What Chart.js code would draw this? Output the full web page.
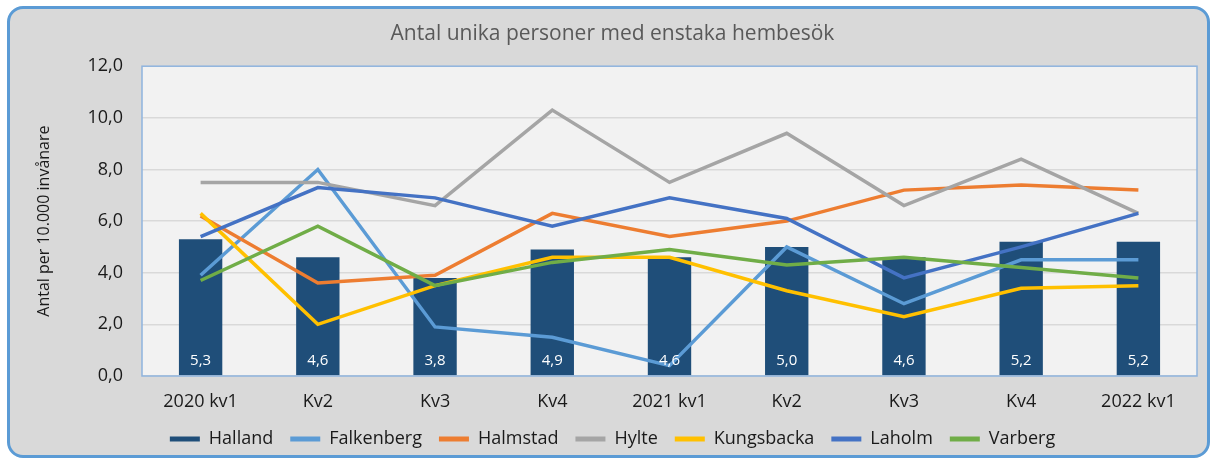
<!DOCTYPE html>
<html>
<head>
<meta charset="utf-8">
<script src="https://cdn.jsdelivr.net/npm/chart.js@4.4.1/dist/chart.umd.min.js"></script>
<style>
  html, body { margin: 0; padding: 0; background: #ffffff; }
  #frame {
    position: absolute; left: 7px; top: 6px; width: 1197px; height: 446px;
    background: #d9d9d9; border: 3px solid #5b9bd5; border-radius: 16px;
  }
  #wrap { position: absolute; left: 0; top: 0; width: 1212px; height: 459px; }
</style>
</head>
<body>
<div id="frame"></div>
<div id="wrap"><canvas id="c" width="1212" height="459"></canvas></div>
<script>
const categories = ["2020 kv1", "Kv2", "Kv3", "Kv4", "2021 kv1", "Kv2", "Kv3", "Kv4", "2022 kv1"];
const halland    = [5.3, 4.6, 3.8, 4.9, 4.6, 5.0, 4.6, 5.2, 5.2];
const falkenberg = [3.9, 8.0, 1.9, 1.5, 0.4, 5.0, 2.8, 4.5, 4.5];
const halmstad   = [6.2, 3.6, 3.9, 6.3, 5.4, 6.0, 7.2, 7.4, 7.2];
const hylte      = [7.5, 7.5, 6.6, 10.3, 7.5, 9.4, 6.6, 8.4, 6.3];
const kungsbacka = [6.3, 2.0, 3.5, 4.6, 4.6, 3.3, 2.3, 3.4, 3.5];
const laholm     = [5.4, 7.3, 6.9, 5.8, 6.9, 6.1, 3.8, 5.0, 6.3];
const varberg    = [3.7, 5.8, 3.5, 4.4, 4.9, 4.3, 4.6, 4.2, 3.8];
const yTicks     = [0, 2, 4, 6, 8, 10, 12];

const FONT = "'Open Sans', 'Noto Sans', sans-serif";

function lineDs(label, data, color, order) {
  return {
    type: 'line', label, data, borderColor: color, backgroundColor: color,
    borderWidth: 3.5, pointRadius: 0, pointHoverRadius: 0, tension: 0, fill: false, order
  };
}

const plotBg = {
  id: 'plotBg',
  beforeDraw(chart) {
    const a = chart.chartArea, ctx = chart.ctx;
    ctx.save();
    ctx.fillStyle = '#f2f2f2';
    ctx.fillRect(a.left, a.top, a.right - a.left, a.bottom - a.top);
    ctx.restore();
  },
  afterDraw(chart) {
    const a = chart.chartArea, ctx = chart.ctx;
    ctx.save();
    ctx.strokeStyle = '#8fb4de';
    ctx.lineWidth = 1.5;
    ctx.strokeRect(a.left, a.top, a.right - a.left, a.bottom - a.top);
    ctx.restore();
  }
};

const barLabels = {
  id: 'barLabels',
  afterDatasetsDraw(chart) {
    const ctx = chart.ctx;
    const meta = chart.getDatasetMeta(0);
    const a = chart.chartArea;
    ctx.save();
    ctx.fillStyle = '#ffffff';
    ctx.font = "15px " + FONT;
    ctx.textAlign = 'center';
    ctx.textBaseline = 'middle';
    meta.data.forEach((bar, i) => {
      ctx.fillText(halland[i].toFixed(1).replace('.', ','), bar.x, a.bottom - 15);
    });
    ctx.restore();
  }
};

new Chart(document.getElementById('c'), {
  data: {
    labels: categories,
    datasets: [
      { type: 'bar', label: 'Halland', data: halland, backgroundColor: '#1f4e79',
        borderWidth: 0, barPercentage: 0.37, categoryPercentage: 1.0, order: 10 },
      lineDs('Falkenberg', falkenberg, '#5b9bd5', 6),
      lineDs('Halmstad', halmstad, '#ed7d31', 5),
      lineDs('Hylte', hylte, '#a5a5a5', 4),
      lineDs('Kungsbacka', kungsbacka, '#ffc000', 3),
      lineDs('Laholm', laholm, '#4472c4', 2),
      lineDs('Varberg', varberg, '#70ad47', 1)
    ]
  },
  options: {
    responsive: false,
    animation: false,
    devicePixelRatio: 1,
    layout: { padding: { left: 28, right: 15, top: 14, bottom: 1 } },
    plugins: {
      title: {
        display: true, text: 'Antal unika personer med enstaka hembesök',
        color: '#595959', font: { family: FONT, size: 21, weight: 'normal' },
        padding: { top: 7, bottom: 20 }
      },
      legend: {
        position: 'bottom',
        labels: {
          color: '#1a1a1a', font: { family: FONT, size: 18 },
          boxWidth: 30, boxHeight: 5, padding: 17,
          sort: (a, b) => a.datasetIndex - b.datasetIndex,
          generateLabels(chart) {
            return chart.data.datasets.map((ds, i) => ({
              text: ds.label,
              fillStyle: ds.type === 'bar' ? ds.backgroundColor : ds.borderColor,
              strokeStyle: ds.type === 'bar' ? ds.backgroundColor : ds.borderColor,
              lineWidth: 0,
              hidden: false,
              datasetIndex: i,
              fontColor: '#1a1a1a'
            }));
          }
        }
      },
      tooltip: { enabled: false }
    },
    scales: {
      x: {
        afterFit(scale) { scale.height = 37; },
        grid: { display: false, drawTicks: false },
        border: { display: false },
        ticks: { color: '#1a1a1a', font: { family: FONT, size: 18 }, padding: 15, maxRotation: 0 }
      },
      y: {
        min: 0, max: 12,
        afterBuildTicks(scale) { scale.ticks = yTicks.map(v => ({ value: v })); },
        afterFit(scale) { scale.width = 114; },
        grid: { color: '#d9d9d9', lineWidth: 1.5, drawTicks: false },
        border: { display: false },
        ticks: {
          color: '#1a1a1a', font: { family: FONT, size: 18 }, padding: 19,
          callback: v => v.toFixed(1).replace('.', ',')
        },
        title: {
          display: true, text: 'Antal per 10.000 invånare', color: '#1a1a1a',
          font: { family: FONT, size: 16 }, padding: { top: 7, bottom: 0 }
        }
      }
    }
  },
  plugins: [plotBg, barLabels]
});
</script>
</body>
</html>
